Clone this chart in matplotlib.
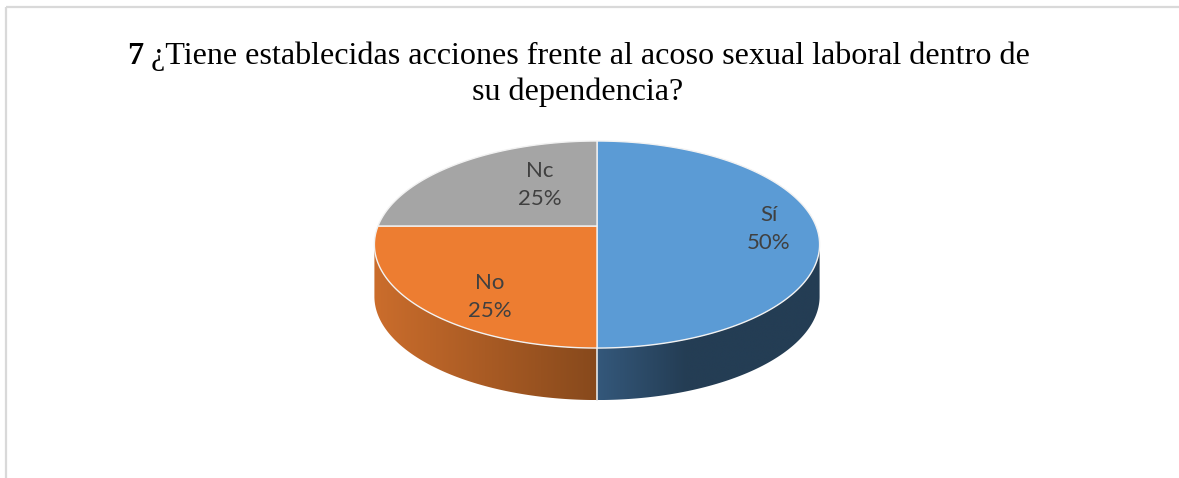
import numpy as np
import matplotlib.pyplot as plt
from matplotlib.patches import Polygon, Rectangle

# data
labels = ['Sí', 'No', 'Nc']
values = [50, 25, 25]
colors = ['#5B9BD5', '#ED7D31', '#A5A5A5']
side_colors = [('#34587B', '#243D54'), ('#CB6D2C', '#87491C'), ('#8C8C8C', '#6E6E6E')]

title_bold = '7'
title_line1 = ' ¿Tiene establecidas acciones frente al acoso sexual laboral dentro de'
title_line2 = 'su dependencia?'

# pie geometry (pixels), perspective tilt
cx, cy = 597, 226
A, B, K = 219, 100.2, 0.179
depth = 52
# label anchor offsets from pie centre (Excel best-fit placement)
label_off = [(172, 3), (-107, 71), (-57, -41)]


def proj(theta, r=1.0, dz=0.0):
    t = np.radians(theta)
    u, v = r * np.cos(t), r * np.sin(t)
    return cx + A * u / (1 + K * v), cy - B * v / (1 + K * v) + dz


fig = plt.figure(figsize=(11.79, 4.78), dpi=100)
ax = fig.add_axes([0, 0, 1, 1])
ax.set_xlim(0, 1179)
ax.set_ylim(478, 0)
ax.axis('off')

# chart border (only top and left visible)
ax.add_patch(Rectangle((6, 7), 1200, 500, fill=False, ec='#D9D9D9', lw=1.6))

# slice angle ranges: start at top, clockwise
total = float(sum(values))
spans = []
start = 90.0
for v in values:
    ang = 360.0 * v / total
    spans.append((start - ang, start))
    start -= ang

# visible side of the disc (between left and right extremes)
side_lo = 180 + np.degrees(np.arcsin(K))
side_hi = 360 - np.degrees(np.arcsin(K))

for (a, b), (c0, c1) in zip(spans, side_colors):
    lo, hi = a % 360, (a % 360) + (b - a)
    s0, s1 = max(lo, side_lo), min(hi, side_hi)
    if s1 <= s0:
        s0, s1 = max(lo + 360, side_lo), min(hi + 360, side_hi)
        if s1 <= s0:
            continue
    th = np.linspace(s0, s1, 200)
    xt, yt = proj(th)
    xb, yb = proj(th[::-1], dz=depth)
    pts = np.column_stack([np.r_[xt, xb], np.r_[yt, yb]])
    poly = Polygon(pts, closed=True, fc='none', ec='none')
    ax.add_patch(poly)
    x0, x1 = pts[:, 0].min(), pts[:, 0].max()
    y0, y1 = pts[:, 1].min(), pts[:, 1].max()
    rgb0 = np.array(plt.matplotlib.colors.to_rgb(c0))
    rgb1 = np.array(plt.matplotlib.colors.to_rgb(c1))
    tt = np.linspace(0, 1, 256)
    if c0 == '#34587B':
        tt = np.clip(tt / 0.4, 0, 1)
    grad = rgb0[None, :] * (1 - tt[:, None]) + rgb1[None, :] * tt[:, None]
    im = ax.imshow(grad[None, :, :], extent=[x0, x1, y1, y0], aspect='auto',
                   interpolation='bilinear', zorder=1)
    im.set_clip_path(poly)

# white seam on the side at the front
xs, ys = proj(np.array([270.0, 270.0]), dz=np.array([0, depth]))
ax.plot(xs, ys, color='#E8E8E8', lw=1.2, zorder=2)

# top faces
for (a, b), col in zip(spans, colors):
    th = np.linspace(a, b, 200)
    xt, yt = proj(th)
    x0, y0 = proj(0.0, r=0.0)
    pts = np.column_stack([np.r_[x0, xt], np.r_[y0, yt]])
    ax.add_patch(Polygon(pts, closed=True, fc=col, ec='#F2F2F2', lw=1.0,
                         joinstyle='miter', zorder=3))

# data labels
for lab, v, (dx, dy) in zip(labels, values, label_off):
    ax.text(cx + dx, cy + dy, f'{lab}\n{v / total * 100:.0f}%', ha='center',
            va='center', fontsize=16, family='Lato', color='#404040',
            linespacing=1.5, zorder=4)

# title with bold number
fig.canvas.draw()
r = fig.canvas.get_renderer()
tb = fig.text(0, 0, title_bold, fontsize=23.1, family='Liberation Serif',
              weight='bold')
tr = fig.text(0, 0, title_line1, fontsize=23.1, family='Liberation Serif')
wb = tb.get_window_extent(r).width
wr = tr.get_window_extent(r).width
x_start = 578.5 - (wb + wr) / 2
y1 = 1 - 64 / 478
tb.set_position((x_start / 1179, y1))
tr.set_position(((x_start + wb) / 1179, y1))
tb.set_va('baseline')
tr.set_va('baseline')
fig.text(578 / 1179, 1 - 100 / 478, title_line2, fontsize=23.1,
         family='Liberation Serif', ha='center', va='baseline')

fig.savefig('out.png', dpi=100, facecolor='white')
